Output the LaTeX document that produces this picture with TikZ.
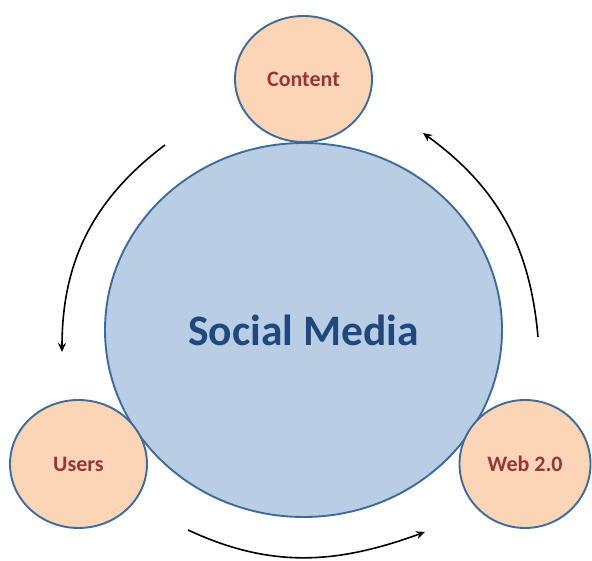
\documentclass[tikz,border=0pt]{standalone}
\usepackage{fontspec}
\setmainfont{Carlito}
\usetikzlibrary{shapes.geometric,arrows.meta}
\definecolor{mainfill}{HTML}{B9CDE5}
\definecolor{ringline}{HTML}{3F6A99}
\definecolor{mainText}{HTML}{1F497D}
\definecolor{smallfill}{HTML}{FBD5B5}
\definecolor{smallText}{HTML}{953735}
\tikzset{
  bigcircle/.style={ellipse, draw=ringline, line width=1.9pt, fill=mainfill, inner sep=0pt,
    font=\fontsize{43.5}{50}\selectfont\bfseries, text=mainText},
  smallcircle/.style={ellipse, draw=ringline, line width=1.9pt, fill=smallfill, inner sep=0pt,
    font=\fontsize{22}{26}\selectfont\bfseries, text=smallText},
  cyclearrow/.style={black, line width=1.6pt, -{Stealth[length=9pt,width=8pt]}}
}
\begin{document}
\begin{tikzpicture}[x=1pt,y=1pt]
\useasboundingbox (0,0) rectangle (592,561);
\node[bigcircle, minimum width=397pt, minimum height=374pt] (main) at (303.5,231) {Social Media};
\node[smallcircle, minimum width=137pt, minimum height=126pt] (content) at (303.5,482) {\raisebox{-3pt}{Content}};
\node[smallcircle, minimum width=137pt, minimum height=128pt] (users) at (78.5,97) {\raisebox{-2pt}{Users}};
\node[smallcircle, minimum width=131pt, minimum height=128pt] (web) at (525,97) {\raisebox{-2pt}{Web 2.0}};
\coordinate (l1) at (165,416);
\coordinate (l2) at (62,209);
\coordinate (r1) at (538,224);
\coordinate (r2) at (423,428);
\coordinate (b1) at (188,31);
\coordinate (b2) at (425,29);
\draw[cyclearrow] (l1) to[out=217,in=90] (l2);
\draw[cyclearrow] (r1) to[out=95,in=-36] (r2);
\draw[cyclearrow] (b1) to[out=-25,in=200] (b2);
\end{tikzpicture}
\end{document}
